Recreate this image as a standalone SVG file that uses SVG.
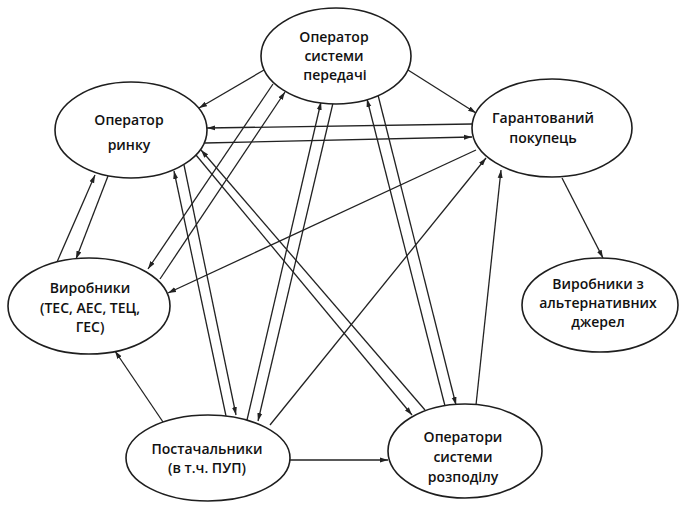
<svg xmlns="http://www.w3.org/2000/svg" width="681" height="506" viewBox="0 0 681 506">
<style>
.n ellipse{fill:#fff;stroke:#1e1e1e;stroke-width:1.6}
.n text{font-family:"Open Sans","Liberation Sans",sans-serif;font-size:14px;font-weight:600;fill:#111;text-anchor:middle}
#edges line{stroke:#222;stroke-width:1.3;fill:none}
.a{marker-end:url(#ah)}
</style>
<defs>
<marker id="ah" markerUnits="userSpaceOnUse" markerWidth="8" markerHeight="6" refX="8" refY="3" orient="auto">
<path d="M0,0.5 L8,3 L0,5.5 z" fill="#222"/>
</marker>
</defs>
<g id="edges">
<line class="a" x1="264" y1="70" x2="199" y2="108"/>
<line class="a" x1="408" y1="70" x2="476" y2="113"/>
<line class="a" x1="472" y1="124" x2="207" y2="128"/>
<line class="a" x1="205" y1="143" x2="472" y2="137"/>
<line class="a" x1="476" y1="150" x2="168" y2="293"/>
<line class="a" x1="270" y1="425" x2="486" y2="158"/>
<line class="a" x1="476" y1="405" x2="501" y2="170"/>
<line class="a" x1="562" y1="178" x2="603" y2="258"/>
<line class="a" x1="273" y1="84" x2="148" y2="269"/>
<line class="a" x1="160" y1="279" x2="285" y2="92"/>
<line class="a" x1="57" y1="262" x2="95" y2="175"/>
<line class="a" x1="108" y1="176" x2="76" y2="259"/>
<line class="a" x1="226" y1="416" x2="174" y2="171"/>
<line class="a" x1="184" y1="165" x2="236" y2="415"/>
<line class="a" x1="247" y1="420" x2="321" y2="102"/>
<line class="a" x1="333" y1="103" x2="258" y2="421"/>
<line class="a" x1="445" y1="406" x2="367" y2="99"/>
<line class="a" x1="378" y1="95" x2="456" y2="405"/>
<line class="a" x1="425" y1="410" x2="201" y2="150"/>
<line class="a" x1="196" y1="155" x2="412" y2="415"/>
<line class="a" x1="163" y1="422" x2="115" y2="351"/>
<line class="a" x1="290" y1="460" x2="388" y2="460"/>
</g>
<g id="osp" class="n">
<ellipse cx="336" cy="56" rx="75" ry="48"/>
<text x="334" y="42">Оператор</text>
<text x="334" y="61">системи</text>
<text x="335" y="80">передачі</text>
</g>
<g id="or" class="n">
<ellipse cx="131" cy="130" rx="76" ry="48"/>
<text x="129" y="125">Оператор</text>
<text x="129" y="150">ринку</text>
</g>
<g id="gp" class="n">
<ellipse cx="552" cy="128" rx="80" ry="49"/>
<text x="543" y="123">Гарантований</text>
<text x="543" y="143">покупець</text>
</g>
<g id="vyr" class="n">
<ellipse cx="89" cy="306" rx="81" ry="48"/>
<text x="90" y="293">Виробники</text>
<text x="90" y="313">(ТЕС, АЕС, ТЕЦ,</text>
<text x="90" y="332">ГЕС)</text>
</g>
<g id="alt" class="n">
<ellipse cx="600" cy="305" rx="78" ry="47"/>
<text x="598" y="289">Виробники з</text>
<text x="598" y="308">альтернативних</text>
<text x="598" y="327">джерел</text>
</g>
<g id="post" class="n">
<ellipse cx="208" cy="458" rx="82" ry="43"/>
<text x="207" y="454">Постачальники</text>
<text x="207" y="473">(в т.ч. ПУП)</text>
</g>
<g id="osr" class="n">
<ellipse cx="465" cy="451" rx="77" ry="47"/>
<text x="463" y="442">Оператори</text>
<text x="463" y="462">системи</text>
<text x="463" y="482">розподілу</text>
</g>
</svg>
